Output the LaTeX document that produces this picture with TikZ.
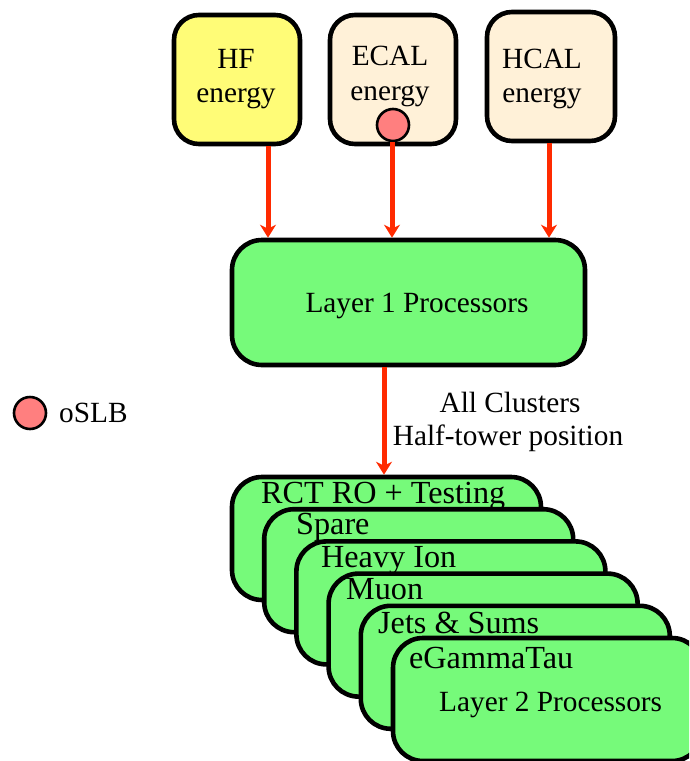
\documentclass[tikz,border=0pt]{standalone}
\usepackage{fontspec}
\setmainfont{Liberation Serif}
\usetikzlibrary{arrows.meta}

\definecolor{hfyellow}{RGB}{255,252,119}
\definecolor{calcream}{RGB}{255,241,216}
\definecolor{procgreen}{RGB}{118,250,122}
\definecolor{flowred}{RGB}{255,42,0}
\definecolor{slbpink}{RGB}{255,127,127}

\tikzset{
  box/.style={draw=black, line width=4.6pt, rounded corners=25pt, inner sep=0pt},
  topbox/.style={box, minimum width=126pt, minimum height=129pt},
  procbox/.style={box, rounded corners=30pt, fill=procgreen, minimum width=309pt, minimum height=123pt},
  lbl/.style={font=\fontsize{29.3}{34}\selectfont, inner sep=0pt, anchor=base},
  lblw/.style={lbl, anchor=base west},
  tabw/.style={lblw, font=\fontsize{32.2}{36}\selectfont},
  flow/.style={draw=flowred, line width=5pt, -{Stealth[length=13pt,width=16pt,inset=4pt]}},
  slbdot/.style={circle, draw=black, line width=2.6pt, fill=slbpink, minimum size=32pt, inner sep=0pt},
}

\begin{document}
\begin{tikzpicture}[x=1pt, y=-1pt]
\useasboundingbox (0,0) rectangle (689,761);
\clip (0,0) rectangle (689,761);

% calorimeter inputs
\node[topbox, fill=hfyellow] (hf) at (237,79.5) {};
\node[lbl] (hft) at (236,68) {HF};
\node[lbl] (hfe) at (236,102) {energy};

\node[topbox, fill=calcream] (ecal) at (393,79.5) {};
\node[lbl] (ecalt) at (390,65) {ECAL};
\node[lbl] (ecale) at (390,100) {energy};
\node[slbdot] (ecaldot) at (393,125) {};

\node[topbox, fill=calcream, minimum width=128pt] (hcal) at (551,76.5) {};
\node[lbl] (hcalt) at (542,68) {HCAL};
\node[lbl] (hcale) at (542,102) {energy};

% layer 1
\node[box, rounded corners=30pt, fill=procgreen, minimum width=353pt, minimum height=125pt] (l1) at (408.5,302.5) {};
\node[lbl] (l1t) at (417,312) {Layer 1 Processors};

% legend
\node[slbdot] (legdot) at (30,413) {};
\node[lblw] (legt) at (59,422) {oSLB};

% layer 2 stack, back to front
\node[procbox] (s1) at (386.5,538.5) {};
\node[tabw] (s1t) at (261,503) {RCT RO + Testing};
\node[procbox] (s2) at (418.7,570.7) {};
\node[tabw] (s2t) at (296,534) {Spare};
\node[procbox] (s3) at (450.9,602.9) {};
\node[tabw] (s3t) at (321,567) {Heavy Ion};
\node[procbox] (s4) at (483.1,635.1) {};
\node[tabw] (s4t) at (346,599) {Muon};
\node[procbox] (s5) at (515.3,667.3) {};
\node[tabw] (s5t) at (378,633) {Jets \& Sums};
\node[procbox] (s6) at (547.5,699.5) {};
\node[tabw] (s6t) at (409,668) {eGammaTau};
\node[lblw] (s6l) at (439,711) {Layer 2 Processors};

% data flow
\draw[flow] ([xshift=31pt]hf.south) -- ([xshift=31pt]hf.south |- l1.north);
\draw[flow] ([xshift=-1pt]ecaldot.south) -- ([xshift=-1pt]ecaldot.south |- l1.north);
\draw[flow] ([xshift=-2pt]hcal.south) -- ([xshift=-2pt]hcal.south |- l1.north);
\draw[flow] ([xshift=-24.5pt]l1.south) -- ([xshift=-24.5pt]l1.south |- s1.north);

\node[lbl] (fl1) at (510,412) {All Clusters};
\node[lbl] (fl2) at (508,445) {Half-tower position};
\end{tikzpicture}
\end{document}
